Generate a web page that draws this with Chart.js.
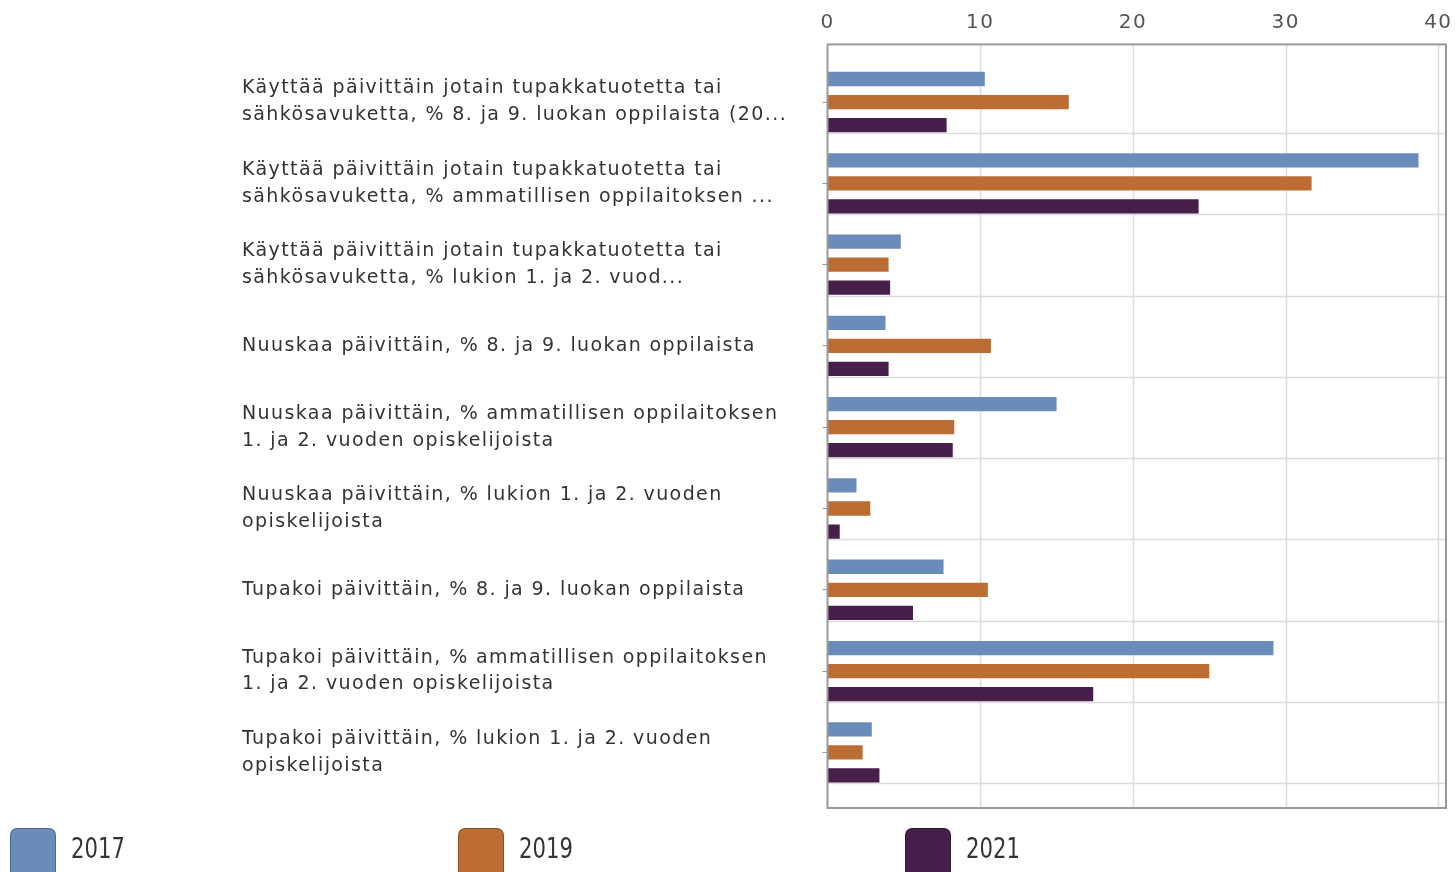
<!DOCTYPE html>
<html>
<head>
<meta charset="utf-8">
<script src="https://cdn.jsdelivr.net/npm/chart.js@4"></script>
<style>
  html, body { margin: 0; padding: 0; background: #fff; overflow: hidden; }
  #wrap { position: relative; width: 1455px; height: 872px; }
  #legend { position: absolute; left: 0; top: 0; width: 1455px; height: 872px; pointer-events: none; }
  .lg-item { position: absolute; top: 828px; height: 44px; }
  .lg-box { position: absolute; left: 0; top: 0; width: 44px; height: 52px; border-radius: 7px; border: 1px solid rgba(0,0,0,0.25); }
  .lg-text { position: absolute; left: 61px; top: 4px; font: 28px "DejaVu Sans Condensed", "Liberation Sans Narrow", sans-serif; color: #333; line-height: 34px; transform: scaleX(0.84); transform-origin: 0 50%; }
</style>
</head>
<body>
<div id="wrap">
  <canvas id="chart" width="1455" height="872"></canvas>
  <div id="legend"></div>
</div>
<script>
const categories = [
  ["Käyttää päivittäin jotain tupakkatuotetta tai", "sähkösavuketta, % 8. ja 9. luokan oppilaista (20..."],
  ["Käyttää päivittäin jotain tupakkatuotetta tai", "sähkösavuketta, % ammatillisen oppilaitoksen ..."],
  ["Käyttää päivittäin jotain tupakkatuotetta tai", "sähkösavuketta, % lukion 1. ja 2. vuod..."],
  "Nuuskaa päivittäin, % 8. ja 9. luokan oppilaista",
  ["Nuuskaa päivittäin, % ammatillisen oppilaitoksen", "1. ja 2. vuoden opiskelijoista"],
  ["Nuuskaa päivittäin, % lukion 1. ja 2. vuoden", "opiskelijoista"],
  "Tupakoi päivittäin, % 8. ja 9. luokan oppilaista",
  ["Tupakoi päivittäin, % ammatillisen oppilaitoksen", "1. ja 2. vuoden opiskelijoista"],
  ["Tupakoi päivittäin, % lukion 1. ja 2. vuoden", "opiskelijoista"]
];
const years = ["2017", "2019", "2021"];
const values2017 = [10.3, 38.7, 4.8, 3.8, 15.0, 1.9, 7.6, 29.2, 2.9];
const values2019 = [15.8, 31.7, 4.0, 10.7, 8.3, 2.8, 10.5, 25.0, 2.3];
const values2021 = [7.8, 24.3, 4.1, 4.0, 8.2, 0.8, 5.6, 17.4, 3.4];
const colors = ["#6a8cbb", "#bb6d34", "#461f4a"];
const xTicks = [0, 10, 20, 30, 40];

const seriesValues = [values2017, values2019, values2021];

// the original text is drawn with wide letter spacing
const spacingPlugin = {
  id: "spacing",
  beforeLayout(chart) { chart.ctx.letterSpacing = "1.4px"; },
  beforeDraw(chart) { chart.ctx.letterSpacing = "1.4px"; }
};

// frame + gridlines that reach past the plot area like in the original
const framePlugin = {
  id: "frame",
  beforeDatasetsDraw(chart) {
    const { ctx, chartArea, scales } = chart;
    const top = chartArea.top - 17, bottom = chartArea.bottom + 15;
    ctx.save();
    ctx.strokeStyle = "#dcdcdc";
    ctx.lineWidth = 1.5;
    xTicks.forEach(function (v) {
      if (v === 0) return;
      const x = Math.round(scales.x.getPixelForValue(v)) + 0.5;
      ctx.beginPath();
      ctx.moveTo(x, top);
      ctx.lineTo(x, bottom);
      ctx.stroke();
    });
    const step = (chartArea.bottom - chartArea.top) / categories.length;
    categories.forEach(function (c, i) {
      const y = Math.round(scales.y.getPixelForValue(i) + step * 0.38) + 0.5;
      ctx.beginPath();
      ctx.moveTo(chartArea.left, y);
      ctx.lineTo(chartArea.right, y);
      ctx.stroke();
    });
    ctx.restore();
  },
  afterDatasetsDraw(chart) {
    const { ctx, chartArea } = chart;
    const top = chartArea.top - 17, bottom = chartArea.bottom + 15;
    ctx.save();
    ctx.strokeStyle = "#9a9a9a";
    ctx.lineWidth = 2;
    ctx.strokeRect(chartArea.left, top, chartArea.right - chartArea.left, bottom - top);
    ctx.restore();
  }
};

new Chart(document.getElementById("chart"), {
  type: "bar",
  data: {
    labels: categories,
    datasets: years.map(function (y, i) {
      return {
        label: y,
        data: seriesValues[i],
        backgroundColor: colors[i],
        borderWidth: 0,
        categoryPercentage: 0.85,
        barPercentage: 0.62
      };
    })
  },
  plugins: [spacingPlugin, framePlugin],
  options: {
    indexAxis: "y",
    responsive: false,
    animation: false,
    layout: {
      padding: { left: 242, right: 9, top: 10, bottom: 79 }
    },
    plugins: {
      legend: { display: false },
      tooltip: { enabled: false }
    },
    scales: {
      x: {
        position: "top",
        min: 0,
        max: 40.5,
        afterBuildTicks: function (scale) {
          scale.ticks = xTicks.map(function (v) { return { value: v }; });
        },
        afterFit: function (scale) {
          scale.height = 51.4;
          scale.paddingLeft = 0;
          scale.paddingRight = 0;
        },
        ticks: {
          padding: 27,
          font: { family: "DejaVu Sans", size: 20 },
          color: "#555"
        },
        grid: { display: false, drawTicks: false },
        border: { display: false }
      },
      y: {
        afterFit: function (scale) {
          scale.width = 585.5;
          scale.paddingTop = 0;
          scale.paddingBottom = 0;
        },
        ticks: {
          crossAlign: "far",
          font: { family: "DejaVu Sans", size: 19, lineHeight: 1.42 },
          color: "#333"
        },
        grid: {
          offset: false,
          drawOnChartArea: false,
          drawTicks: true,
          tickLength: 5,
          color: "#999"
        },
        border: { display: false }
      }
    }
  }
});

// legend boxes below the plot
const legend = document.getElementById("legend");
years.forEach(function (y, i) {
  const item = document.createElement("div");
  item.className = "lg-item";
  item.style.left = (10 + i * 447.5) + "px";
  const box = document.createElement("div");
  box.className = "lg-box";
  box.style.background = colors[i];
  const txt = document.createElement("div");
  txt.className = "lg-text";
  txt.textContent = y;
  item.appendChild(box);
  item.appendChild(txt);
  legend.appendChild(item);
});
</script>
</body>
</html>
